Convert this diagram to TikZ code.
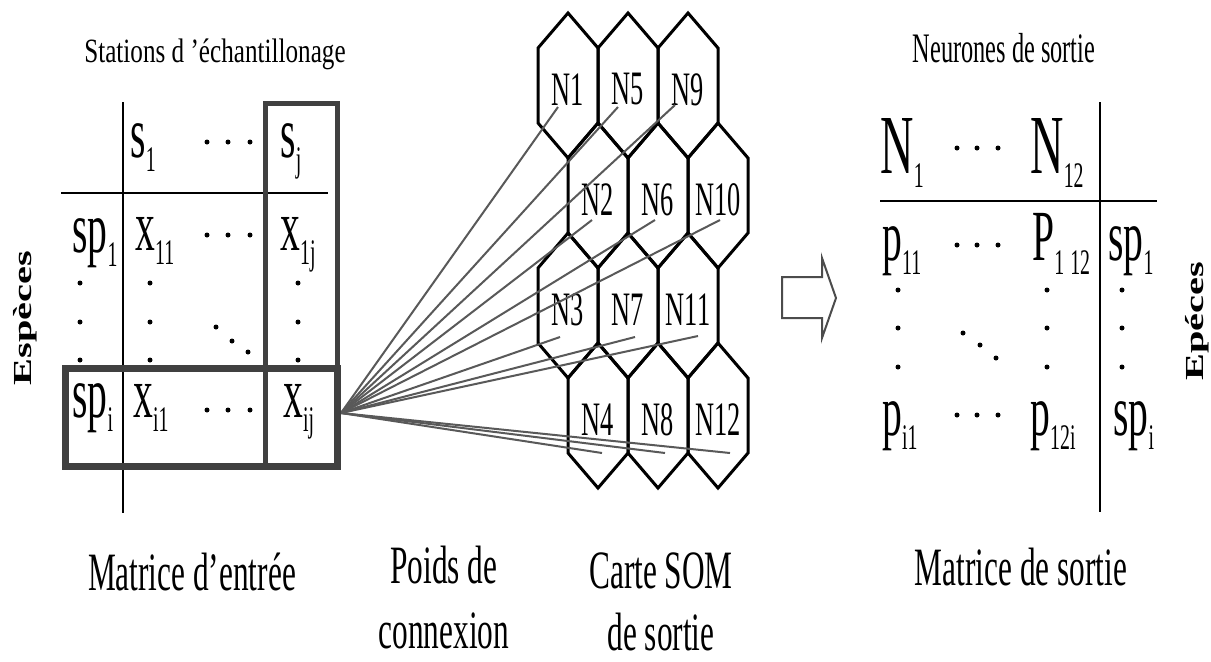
\documentclass[tikz,border=0pt]{standalone}
\usepackage{fontspec}
\setmainfont{Liberation Serif}[FakeStretch=0.58]
\newfontfamily\tabfont{Liberation Serif}[FakeStretch=0.55]
\newfontfamily\hdfont{Liberation Serif}[FakeStretch=0.74]
\newfontfamily\sidefont{Liberation Serif}[FakeStretch=1.55]
\newcommand{\ix}[2]{#1\raisebox{-7pt}{\fontsize{18}{18}\selectfont #2}}

\begin{document}
\begin{tikzpicture}[x=0.5pt,y=-0.5pt,
            cell/.style={inner sep=0,anchor=base west,font=\tabfont\fontsize{36}{36}\selectfont},
            bigcell/.style={cell,font=\tabfont\fontsize{42}{42}\selectfont},
            hexcell/.style={draw,line width=1.5pt,line join=miter},
            hexlab/.style={inner sep=0,font=\tabfont\fontsize{24}{24}\selectfont},
            lab/.style={inner sep=0,anchor=base,font=\fontsize{27}{27}\selectfont},
            title/.style={inner sep=0,anchor=base,font=\hdfont\fontsize{17}{17}\selectfont},
            side/.style={inner sep=0,anchor=base,rotate=90,font=\sidefont\bfseries\fontsize{13}{13}\selectfont},
            rule/.style={draw,line width=1pt},
            frame/.style={draw=black!75,line width=2.5pt},
            rowframe/.style={frame,line width=3.5pt},
            weight/.style={draw=black!65,line width=1pt},
            hollow/.style={draw=black!70,line width=1pt,line join=miter}
          ]
          \fill[white] (0,0) rectangle (1211,661);
          \useasboundingbox (0,0) rectangle (1211,661);

          %carte SOM
          \foreach \n in {1,...,12}{
            \pgfmathtruncatemacro\c{div(\n-1,4)}
            \pgfmathtruncatemacro\r{mod(\n-1,4)}
            \pgfmathsetmacro\hx{568+60*\c+30*mod(\r,2)}
            \pgfmathsetmacro\hy{85.5+110*\r}
            \draw[hexcell] (\hx,\hy) ++(0,-72.5) -- ++(30,35) -- ++(0,75) -- ++(-30,35)
              -- ++(-30,-35) -- ++(0,-75) -- cycle;
            \node[hexlab] (n\n) at (\hx,\hy+4) {N\n};
          }

          %poids de connexion
          \coordinate (src) at (341,413);
          \foreach \n/\ex/\ey in {1/558/107,5/618/107,9/675/105,2/592/220,6/655/220,10/720/220,
                                  3/560/337,7/635/337,11/698/336,4/602/453,8/665/453,12/730/453}{
            \coordinate (w\n) at (\ex,\ey);
            \draw[weight] (src) -- (w\n);
          }

          %matrice d'entree
          \draw[rule] (123,102) -- (123,513);
          \draw[rule] (61,193) -- (328,193);
          \node[cell] (s1) at (130,157) {\ix{s}{1}};
          \node[cell] (sj) at (280,157) {\ix{s}{j}};
          \node[cell] (sp1) at (72,252) {\ix{sp}{1}};
          \node[cell] (x11) at (135,250) {\ix{x}{11}};
          \node[cell] (x1j) at (280,250) {\ix{x}{1j}};
          \node[cell] (spi) at (72,417) {\ix{sp}{i}};
          \node[cell] (xi1) at (133,417) {\ix{x}{i1}};
          \node[cell] (xij) at (283,417) {\ix{x}{ij}};
          \foreach \y in {142,235,410}
            \foreach \x in {207,228,250}
              \fill (\x,\y) circle (2.5);
          \foreach \x in {80,150,298}
            \foreach \y in {283,322,360}
              \fill (\x,\y) circle (2.5);
          \foreach \x/\y in {216/327,232/341,248/352}
            \fill (\x,\y) circle (2.5);
          \draw[frame] (265,103) rectangle (337,466);
          \draw[rowframe] (65,368) rectangle (337,466);

          %matrice de sortie
          \draw[rule] (1100,102) -- (1100,512);
          \draw[rule] (880,201) -- (1157,201);
          \node[bigcell] (N1) at (880,173) {\ix{N}{1}};
          \node[bigcell] (N12) at (1030,173) {\ix{N}{12}};
          \node[cell] (p11) at (882,260) {\ix{p}{11}};
          \node[cell] (p112) at (1032,260) {\ix{P}{1\,12}};
          \node[cell] (osp1) at (1108,260) {\ix{sp}{1}};
          \node[cell] (pi1) at (882,435) {\ix{p}{i1}};
          \node[cell] (p12i) at (1030,435) {\ix{p}{12i}};
          \node[cell] (ospi) at (1113,435) {\ix{sp}{i}};
          \foreach \y in {148,245,415}
            \foreach \x in {957,977,998}
              \fill (\x,\y) circle (2.5);
          \foreach \x in {898,1047,1122}
            \foreach \y in {290,328,367}
              \fill (\x,\y) circle (2.5);
          \foreach \x/\y in {963/333,980/345,996/358}
            \fill (\x,\y) circle (2.5);

          %fleche
          \draw[hollow] (782,277) -- (822,277) -- (822,258) -- (836,298) -- (822,338)
            -- (822,318) -- (782,318) -- cycle;

          %labels
          \node[title] (stations) at (215,62) {Stations d ’échantillonage};
          \node[lab,font=\fontsize{21}{21}\selectfont] (neurones) at (1004,62) {Neurones de sortie};
          \node[side] (especes) at (32,318) {Espèces};
          \node[side] (epeces) at (1203,321) {Epéces};
          \node[lab] (min) at (192,590) {Matrice d’entrée};
          \node[lab] (poids) at (444,583) {Poids de};
          \node[lab] (connexion) at (444,648) {connexion};
          \node[lab] (carte) at (661,588) {Carte SOM};
          \node[lab] (desortie) at (661,650) {de sortie};
          \node[lab] (mout) at (1021,585) {Matrice de sortie};

      \end{tikzpicture}
\end{document}
